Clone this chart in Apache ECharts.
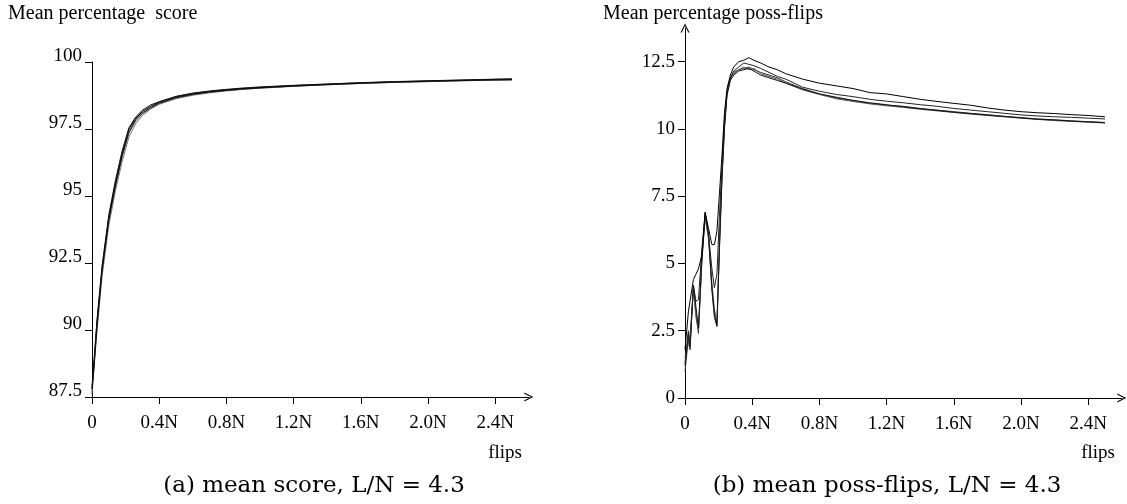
<!DOCTYPE html>
<html>
<head>
<meta charset="utf-8">
<script src="https://cdn.jsdelivr.net/npm/echarts@6/dist/echarts.min.js"></script>
<style>
  html, body { margin: 0; padding: 0; background: #fff; }
  #chart { width: 1127px; height: 504px; }
</style>
</head>
<body>
<div id="chart"></div>
<script>
(function() {
  // flips, in units of N
  const flipsScore = [0, 0.01, 0.03, 0.06, 0.1, 0.14, 0.18, 0.22, 0.26, 0.3, 0.35, 0.4, 0.5, 0.6, 0.7, 0.8, 0.9, 1.0, 1.2, 1.4, 1.6, 1.8, 2.0, 2.2, 2.4, 2.5];
  const score1 = [87.8, 88.6, 90.3, 92.3, 94.2, 95.5, 96.6, 97.5, 97.9, 98.15, 98.35, 98.5, 98.7, 98.82, 98.9, 98.96, 99.01, 99.05, 99.12, 99.17, 99.22, 99.26, 99.29, 99.32, 99.35, 99.36];
  const score2 = [87.7, 88.4, 90.0, 92.0, 93.9, 95.2, 96.3, 97.2, 97.7, 98.0, 98.25, 98.42, 98.63, 98.76, 98.85, 98.92, 98.98, 99.02, 99.09, 99.15, 99.2, 99.24, 99.27, 99.3, 99.32, 99.33];
  const score3 = [87.9, 88.7, 90.4, 92.4, 94.3, 95.6, 96.7, 97.55, 97.95, 98.2, 98.4, 98.52, 98.72, 98.84, 98.92, 98.98, 99.03, 99.07, 99.13, 99.18, 99.23, 99.27, 99.3, 99.33, 99.36, 99.37];
  const score4 = [87.8, 88.5, 90.2, 92.2, 94.1, 95.4, 96.5, 97.4, 97.85, 98.1, 98.3, 98.47, 98.67, 98.8, 98.88, 98.94, 98.99, 99.03, 99.1, 99.16, 99.21, 99.25, 99.28, 99.31, 99.33, 99.34];
  const score5 = [87.6, 88.5, 90.1, 92.2, 94.1, 95.4, 96.5, 97.35, 97.8, 98.07, 98.28, 98.45, 98.66, 98.78, 98.87, 98.94, 98.99, 99.04, 99.1, 99.15, 99.2, 99.24, 99.27, 99.3, 99.33, 99.34];

  const flipsPoss = [0, 0.02, 0.03, 0.05, 0.065, 0.08, 0.1, 0.12, 0.14, 0.16, 0.175, 0.19, 0.205, 0.22, 0.235, 0.25, 0.27, 0.29, 0.32, 0.35, 0.38, 0.41, 0.45, 0.5, 0.55, 0.6, 0.7, 0.8, 0.9, 1.0, 1.1, 1.2, 1.3, 1.4, 1.5, 1.6, 1.7, 1.8, 1.9, 2.0, 2.1, 2.2, 2.3, 2.4, 2.5];
  const poss1 = [1.8, 3.2, 3.6, 4.4, 4.6, 4.8, 5.3, 6.9, 6.3, 5.7, 5.7, 6.2, 7.6, 9.0, 10.6, 11.5, 12.0, 12.3, 12.5, 12.55, 12.65, 12.55, 12.45, 12.3, 12.2, 12.05, 11.85, 11.7, 11.6, 11.5, 11.35, 11.3, 11.2, 11.1, 11.02, 10.95, 10.88, 10.78, 10.7, 10.64, 10.6, 10.57, 10.53, 10.5, 10.45];
  const poss2 = [1.3, 2.5, 2.0, 4.2, 3.6, 3.65, 5.5, 6.9, 6.1, 4.8, 4.1, 4.6, 6.8, 8.6, 10.3, 11.4, 11.9, 12.15, 12.3, 12.45, 12.4, 12.35, 12.25, 12.1, 11.95, 11.85, 11.55, 11.4, 11.28, 11.2, 11.1, 11.03, 10.97, 10.9, 10.84, 10.76, 10.7, 10.64, 10.58, 10.52, 10.48, 10.45, 10.43, 10.4, 10.37];
  const poss3 = [1.0, 2.2, 1.9, 4.1, 3.2, 2.4, 5.0, 6.8, 6.0, 4.0, 3.0, 2.65, 5.5, 8.2, 10.1, 11.3, 11.85, 12.1, 12.2, 12.25, 12.3, 12.2, 12.1, 12.0, 11.9, 11.75, 11.5, 11.3, 11.15, 11.05, 10.95, 10.88, 10.84, 10.76, 10.7, 10.64, 10.58, 10.53, 10.47, 10.42, 10.37, 10.34, 10.3, 10.27, 10.24];
  const poss4 = [1.5, 2.0, 2.3, 4.0, 3.0, 2.5, 5.2, 6.7, 5.9, 4.3, 3.3, 2.8, 5.8, 8.3, 10.2, 11.35, 11.9, 12.05, 12.2, 12.3, 12.2, 12.25, 12.05, 11.95, 11.85, 11.7, 11.45, 11.28, 11.12, 11.02, 10.93, 10.86, 10.8, 10.73, 10.67, 10.61, 10.55, 10.5, 10.45, 10.4, 10.35, 10.31, 10.28, 10.25, 10.22];
  const poss5 = [1.2, 2.4, 1.8, 4.2, 3.4, 2.6, 5.1, 6.85, 6.1, 4.1, 3.1, 2.7, 5.6, 8.1, 10.0, 11.25, 11.8, 12.0, 12.15, 12.2, 12.25, 12.15, 12.0, 11.9, 11.8, 11.7, 11.48, 11.3, 11.18, 11.06, 10.97, 10.9, 10.82, 10.75, 10.69, 10.62, 10.57, 10.51, 10.46, 10.41, 10.36, 10.33, 10.29, 10.26, 10.23];

  const xTicks = [0, 0.4, 0.8, 1.2, 1.6, 2.0, 2.4];
  const scoreTicks = [87.5, 90, 92.5, 95, 97.5, 100];
  const possTicks = [0, 2.5, 5, 7.5, 10, 12.5];

  const chart = echarts.init(document.getElementById('chart'));
  const serif = 'Liberation Serif';
  const arrow = 'path://M5,0 L10,10 L8.6,10 L5,2.6 L1.4,10 L0,10 Z';

  function xAxis(gridIndex) {
    return {
      type: 'value',
      gridIndex: gridIndex,
      min: 0,
      max: 2.6,
      interval: 0.4,
      splitLine: { show: false },
      axisLine: {
        lineStyle: { color: '#000', width: 1 },
        symbol: ['none', arrow],
        symbolSize: [9, 12]
      },
      axisTick: { length: 7, customValues: xTicks, lineStyle: { color: '#000' } },
      axisLabel: {
        customValues: xTicks,
        margin: 17,
        color: '#000',
        fontFamily: serif,
        fontSize: 19,
        formatter: function(v) {
          return v === 0 ? '0' : v.toFixed(1) + 'N';
        }
      }
    };
  }

  function line(xs, ys, axis, color) {
    return {
      type: 'line',
      xAxisIndex: axis,
      yAxisIndex: axis,
      data: xs.map((x, i) => [x, ys[i]]),
      showSymbol: false,
      symbol: 'none',
      silent: true,
      lineStyle: { width: 1, color: color }
    };
  }

  const option = {
    animation: false,
    grid: [
      { left: 92, top: 62, width: 436.8, height: 335 },
      { left: 685, top: 28, width: 436.8, height: 370 }
    ],
    xAxis: [xAxis(0), xAxis(1)],
    yAxis: [
      {
        type: 'value',
        gridIndex: 0,
        min: 87.5,
        max: 100,
        interval: 2.5,
        splitLine: { show: false },
        axisLine: { show: true, lineStyle: { color: '#000', width: 1 } },
        axisTick: { show: true, length: 7, customValues: scoreTicks, lineStyle: { color: '#000' } },
        axisLabel: {
          customValues: scoreTicks,
          margin: 10,
          color: '#000',
          fontFamily: serif,
          fontSize: 19,
          verticalAlign: 'bottom',
          lineHeight: 12
        }
      },
      {
        type: 'value',
        gridIndex: 1,
        min: 0,
        max: 13.75,
        interval: 2.5,
        splitLine: { show: false },
        axisLine: {
          show: true,
          lineStyle: { color: '#000', width: 1 },
          symbol: ['none', arrow],
          symbolSize: [9, 12]
        },
        axisTick: { show: true, length: 7, customValues: possTicks, lineStyle: { color: '#000' } },
        axisLabel: {
          customValues: possTicks,
          margin: 10,
          color: '#000',
          fontFamily: serif,
          fontSize: 19
        }
      }
    ],
    series: [
      line(flipsScore, score2, 0, '#777'),
      line(flipsScore, score5, 0, '#444'),
      line(flipsScore, score4, 0, '#222'),
      line(flipsScore, score1, 0, '#000'),
      line(flipsScore, score3, 0, '#111'),
      line(flipsPoss, poss3, 1, '#333'),
      line(flipsPoss, poss4, 1, '#555'),
      line(flipsPoss, poss5, 1, '#111'),
      line(flipsPoss, poss2, 1, '#222'),
      line(flipsPoss, poss1, 1, '#000')
    ],
    graphic: [
      { type: 'text', x: 8, y: 4, style: { text: 'Mean percentage  score', font: '20px ' + serif, fill: '#000' } },
      { type: 'text', x: 603, y: 4, style: { text: 'Mean percentage poss-flips', font: '20px ' + serif, fill: '#000' } },
      { type: 'text', x: 522, y: 444, style: { text: 'flips', font: '19px ' + serif, fill: '#000', align: 'right' } },
      { type: 'text', x: 1115, y: 444, style: { text: 'flips', font: '19px ' + serif, fill: '#000', align: 'right' } },
      { type: 'text', x: 314, y: 475, style: { text: '(a) mean score, L/N = 4.3', font: '23px DejaVu Serif', fill: '#000', align: 'center' } },
      { type: 'text', x: 887, y: 475, style: { text: '(b) mean poss-flips, L/N = 4.3', font: '23px DejaVu Serif', fill: '#000', align: 'center' } }
    ]
  };

  chart.setOption(option);
}());
</script>
</body>
</html>
